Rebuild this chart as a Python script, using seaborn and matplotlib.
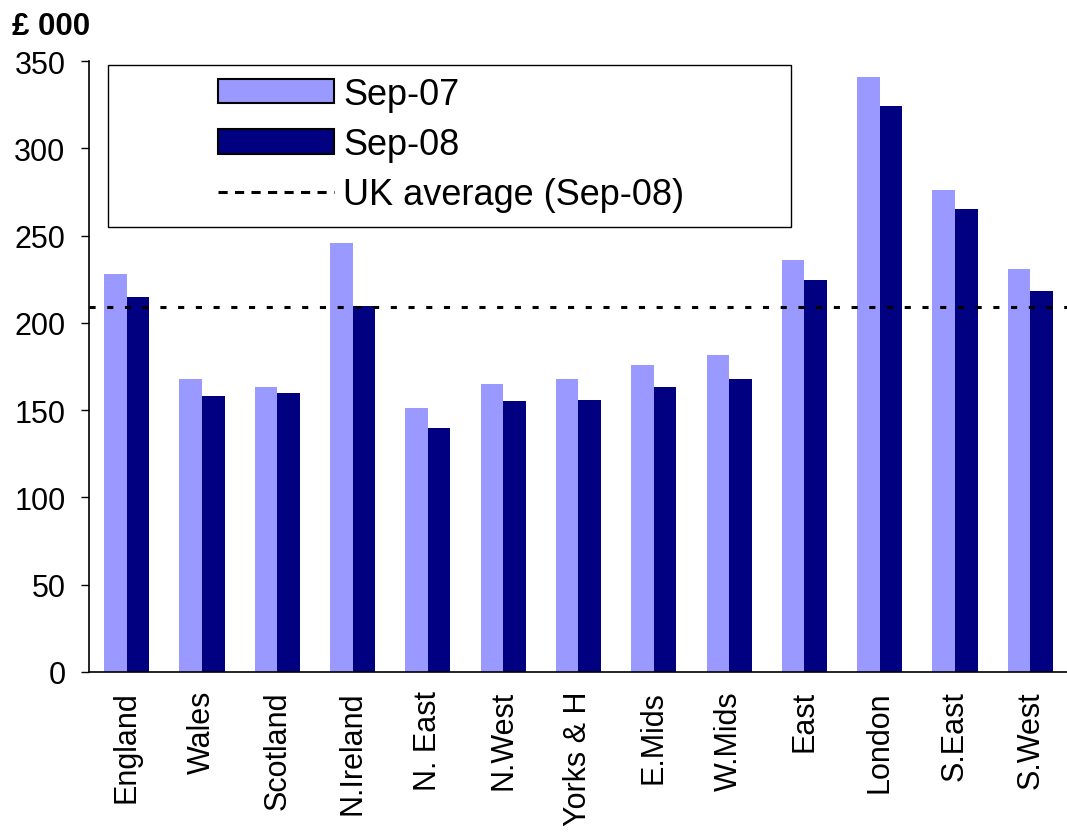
import matplotlib
matplotlib.use("Agg")
import matplotlib.pyplot as plt
from matplotlib.patches import Patch, Rectangle
from matplotlib.lines import Line2D
import seaborn as sns
import pandas as pd
import numpy as np

regions = ["England", "Wales", "Scotland", "N.Ireland", "N. East", "N.West",
           "Yorks & H", "E.Mids", "W.Mids", "East", "London", "S.East", "S.West"]
sep07 = [228, 168, 163, 246, 151, 165, 168, 176, 181.5, 236, 341, 276, 231]
sep08 = [215, 158, 160, 209.5, 140, 155, 156, 163, 168, 224.5, 324, 265, 218]
uk_avg = 209
series = ["Sep-07", "Sep-08"]
colors = ["#9999FF", "#000080"]
yticks = [0, 50, 100, 150, 200, 250, 300, 350]

df = pd.DataFrame({
    "region": regions * 2,
    "value": sep07 + sep08,
    "series": [series[0]] * len(regions) + [series[1]] * len(regions),
})

sns.set_theme(style="white")
plt.rcParams["font.family"] = ["Liberation Sans", "DejaVu Sans"]
plt.rcParams["text.color"] = "black"
plt.rcParams["xtick.color"] = "black"
plt.rcParams["ytick.color"] = "black"
plt.rcParams["axes.labelcolor"] = "black"

W, H = 1067, 837
fig = plt.figure(figsize=(W / 100, H / 100), dpi=100)
ax = fig.add_axes([89 / W, (H - 673) / H, (1068 - 89) / W, (673 - 62) / H])

sns.barplot(data=df, x="region", y="value", hue="series", order=regions,
            hue_order=series, palette=colors, saturation=1, width=0.6,
            dodge=True, legend=False, ax=ax, linewidth=0, errorbar=None)

ax.axhline(uk_avg, color="black", lw=2.2, linestyle=(0, (2.0, 3.8)))

ax.set_xlim(-0.5, len(regions) - 0.5)
ax.set_ylim(0, 350)
ax.set_yticks(yticks)
ax.set_yticklabels([str(v) for v in yticks], fontsize=22)
ax.set_xticks(range(len(regions)))
ax.set_xticklabels(regions, rotation=90, fontsize=22)
ax.set_xticks(np.arange(-0.5, len(regions), 1.0), minor=True)
ax.tick_params(axis="x", which="major", length=0, pad=13, labelcolor="black")
ax.tick_params(axis="x", which="minor", length=6, width=1, color="black", direction="out")
ax.tick_params(axis="y", which="major", length=6, width=1, color="black",
               direction="out", left=True, pad=11, labelcolor="black")
ax.set_xlabel("")
ax.set_ylabel("")
for s in ["top", "right"]:
    ax.spines[s].set_visible(False)
for s in ["left", "bottom"]:
    ax.spines[s].set_color("black")
    ax.spines[s].set_linewidth(1.2)

# legend frame
ax.add_patch(Rectangle(((108 - 89) / 979, (673 - 228) / 611), (791 - 108) / 979,
                       (228 - 66) / 611, transform=ax.transAxes, fill=True,
                       facecolor="white", edgecolor="black", lw=1.0, zorder=5))

handles = [Patch(facecolor=colors[0], edgecolor="black", lw=1.5),
           Patch(facecolor=colors[1], edgecolor="black", lw=1.5),
           Line2D([0], [0], color="black", lw=2.2, linestyle=(0, (3.0, 2.4)))]
labels = ["Sep-07", "Sep-08", "UK average (Sep-08)"]
leg = fig.legend(handles, labels, loc="upper left",
                 bbox_to_anchor=(218 / W, (H - 78) / H), frameon=False,
                 fontsize=26, borderpad=0, borderaxespad=0, handlelength=3.2,
                 handleheight=0.66, handletextpad=0.27, labelspacing=0.42)
leg.set_zorder(10)
for t in leg.get_texts():
    t.set_color("black")

fig.text(12 / W, (H - 27) / H, "£ 000", fontsize=22.5, fontweight="bold",
         family=["Liberation Sans", "DejaVu Sans"],
         va="center", ha="left", color="black")

fig.savefig("out.png", dpi=100)
